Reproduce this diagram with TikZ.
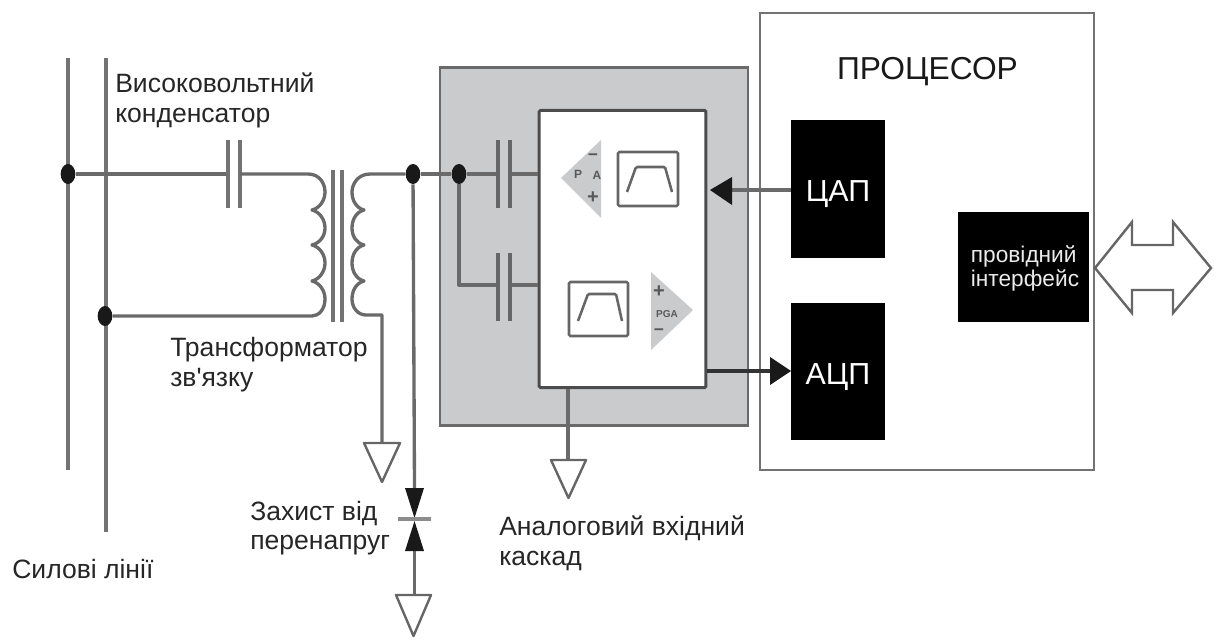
\documentclass[tikz,border=0pt]{standalone}
\usepackage{fontspec}
\setmainfont{Liberation Sans}
\newfontfamily\plainsans{Liberation Sans}
\usetikzlibrary{shapes.geometric}
\definecolor{wire}{HTML}{6A6A6A}
\definecolor{pale}{HTML}{C9CBCD}
\definecolor{frameg}{HTML}{6A6A6A}
\tikzset{
 wireline/.style={draw=wire,line width=2.5pt,line join=round},
 powerline/.style={draw=black!55,line width=2.5pt},
 dotnode/.style={ellipse,fill=black!90,minimum width=11pt,minimum height=15pt,inner sep=0pt},
 lab/.style={anchor=base west,font=\fontsize{19.9}{22}\selectfont,inner sep=0pt,text=black!85},
 blackbox/.style={draw=none,fill=black,text=white,inner sep=0pt},
 filt/.style={draw=black!60,line width=1.9pt,rounded corners=1pt},
 gnd/.style={draw=black!60,line width=1.8pt,fill=white,line join=round},
 tiny/.style={font=\fontsize{9}{9}\selectfont\bfseries,inner sep=0pt,text=black!65},
}
\begin{document}
\begin{tikzpicture}[x=0.75pt,y=-0.75pt]
\useasboundingbox (0,0) rectangle (1219,639);
% frames
\node[draw=frameg,line width=2.2pt,fill=pale,minimum width=231pt,minimum height=269pt,inner sep=0pt] (afe) at (594,246.5) {};
\node[draw=black!70,line width=2.2pt,fill=white,minimum width=125pt,minimum height=208pt,inner sep=0pt,rounded corners=1pt] (core) at (622.5,249) {};
\node[draw=black!55,line width=1.7pt,fill=white,minimum width=250.5pt,minimum height=342.75pt,inner sep=0pt] (cpu) at (927,241.5) {};
\node[blackbox,minimum width=70.5pt,minimum height=103.5pt,font=\fontsize{22.8}{24}\selectfont,text height=18pt,text depth=0pt] (dac) at (838,189) {ЦАП};
\node[blackbox,minimum width=70.5pt,minimum height=103pt,font=\fontsize{22.8}{24}\selectfont,text height=20pt,text depth=0pt] (adc) at (838,371.5) {АЦП};
\node[blackbox,minimum width=98.5pt,minimum height=82.5pt] (iface) at (1023.5,267) {};
\node[inner sep=0pt,text=white!92!black,align=left,font=\fontsize{17}{18}\selectfont] (ifacetext) at (1025,268.5) {провідний\\інтерфейс};
\node[anchor=base,font=\fontsize{23.8}{26}\selectfont,inner sep=0pt,text=black!90] (proc) at (927.5,79) {ПРОЦЕСОР};
% power lines
\coordinate (l1t) at (68,58); \coordinate (l1b) at (68,470);
\coordinate (l2t) at (106,58); \coordinate (l2b) at (106,532);
\draw[powerline] (l1t) -- (l1b);
\draw[powerline] (l2t) -- (l2b);
% junctions
\node[dotnode] (j1) at (68,174) {};
\node[dotnode] (j2) at (105,316) {};
\node[dotnode] (j3) at (413,174) {};
\node[dotnode] (j4) at (459,174) {};
% HV capacitor
\coordinate (c1a) at (228,174); \coordinate (c1b) at (240,174);
\draw[wireline] (j1) -- (c1a);
\draw[wireline,draw=black!55] (228,140) -- (228,208);
\draw[wireline,draw=black!55] (240,140) -- (240,208);
% primary
\draw[wireline] (c1b) -- (308,174) .. controls (320,174) and (325,184) .. (325,192) .. controls (325,200) and (320,208) .. (312,210)
 .. controls (320,212) and (325,220) .. (325,228) .. controls (325,236) and (320,243) .. (312,245)
 .. controls (320,247) and (325,255) .. (325,263) .. controls (325,271) and (320,279) .. (312,281)
 .. controls (320,283) and (325,291) .. (325,299) .. controls (325,309) and (319,316) .. (312,316) -- (j2);
% core
\draw[wireline,draw=black!55] (333,170) -- (333,322);
\draw[wireline,draw=black!55] (342,170) -- (342,322);
% secondary
\coordinate (gndA) at (382,443);
\draw[wireline] (j3) -- (370,174) .. controls (358,174) and (352,184) .. (352,192) .. controls (352,200) and (356,208) .. (364,210)
 .. controls (356,212) and (352,220) .. (352,228) .. controls (352,236) and (356,243) .. (364,245)
 .. controls (356,247) and (352,255) .. (352,263) .. controls (352,271) and (356,279) .. (364,281)
 .. controls (356,283) and (352,291) .. (352,299) .. controls (352,308) and (358,315) .. (366,315) -- (382,315) -- (gndA);
\draw[gnd] (364,443) -- (400,443) -- (382,482) -- cycle;
% TVS
\coordinate (tvsT) at (414.5,488); \coordinate (tvsB) at (414.5,551); \coordinate (gndB) at (414.5,595);
\draw[wireline] (j3) -- (tvsT);
\draw[wireline] (tvsB) -- (gndB);
\fill[black!90] (405,488) -- (424,488) -- (414.5,518) -- cycle;
\fill[black!90] (405,551) -- (424,551) -- (414.5,521) -- cycle;
\draw[wireline,draw=black!45] (398,519) -- (431,519);
\draw[gnd] (396,595) -- (431,595) -- (413.5,636) -- cycle;
% AFE input
\draw[wireline] (j3) -- (j4);
\coordinate (c2a) at (498,174); \coordinate (c2b) at (510,174);
\coordinate (c3a) at (498,285); \coordinate (c3b) at (510,285);
\draw[wireline] (j4) -- (c2a);
\draw[wireline] (c2b) -- (core.west |- c2b);
\draw[wireline] (j4) -- (459,285) -- (c3a);
\draw[wireline] (c3b) -- (core.west |- c3b);
\foreach \y in {140,253}{
 \draw[wireline,draw=black!60] (498,\y) -- ++(0,68);
 \draw[wireline,draw=black!60] (510,\y) -- ++(0,68);
}
% amplifiers and filters
\fill[pale] (561,178) -- (601,140) -- (601,218) -- cycle;
\node[tiny,font=\fontsize{13}{13}\selectfont\bfseries] (am) at (593,157) {−};
\node[tiny] (ap) at (578,174) {P};
\node[tiny] (aa) at (597,175) {A};
\node[tiny,font=\fontsize{15}{15}\selectfont\bfseries] (apl) at (593,198) {+};
\draw[filt] (618,152) rectangle (678,206);
\draw[filt] (627,192) -- (636,167) -- (665,167) -- (672,192);
\draw[filt] (569,282) rectangle (628,336);
\draw[filt] (578,321) -- (588,294) -- (616,294) -- (622,321);
\fill[pale] (651,272) -- (651,350) -- (693,310) -- cycle;
\node[tiny,font=\fontsize{15}{15}\selectfont\bfseries] (bpl) at (659,292) {+};
\node[tiny,font=\fontsize{7.5}{8}\selectfont\bfseries] (bp) at (667,314) {PGA};
\node[tiny,font=\fontsize{13}{13}\selectfont\bfseries] (bm) at (659,332) {−};
% converters links
\coordinate (dacin) at (732,190);
\draw[wireline] (dac.west |- dacin) -- (dacin);
\fill[black!90] (710,190) -- (732,177) -- (732,205) -- cycle;
\coordinate (adcin) at (770,371);
\draw[wireline,draw=black!80] (core.east |- adcin) -- (adcin);
\fill[black!90] (791,371) -- (770,357) -- (770,385) -- cycle;
% core ground
\coordinate (gndC) at (568,460);
\draw[wireline] (core.south -| gndC) -- (gndC);
\draw[gnd] (551,460) -- (586,460) -- (568.5,498) -- cycle;
% bus arrow
\draw[draw=black!60,line width=1.8pt,fill=white,line join=miter] (1095,268) -- (1132,222) -- (1132,245) -- (1173,245) -- (1173,222) -- (1211,268) -- (1173,313) -- (1173,290) -- (1132,290) -- (1132,313) -- cycle;
% labels
\node[lab] (t1) at (115,92) {Високовольтний};
\node[lab] (t2) at (115,122) {конденсатор};
\node[lab] (t3) at (170,356) {Трансформатор};
\node[lab] (t4) at (170,386) {\plainsans зв'язку};
\node[lab] (t5) at (250,520) {Захист від};
\node[lab] (t6) at (250,549) {перенапруг};
\node[lab] (t7) at (499,535) {Аналоговий вхідний};
\node[lab] (t8) at (499,565) {каскад};
\node[lab] (t9) at (12,578) {Силові лінії};
\end{tikzpicture}
\end{document}
